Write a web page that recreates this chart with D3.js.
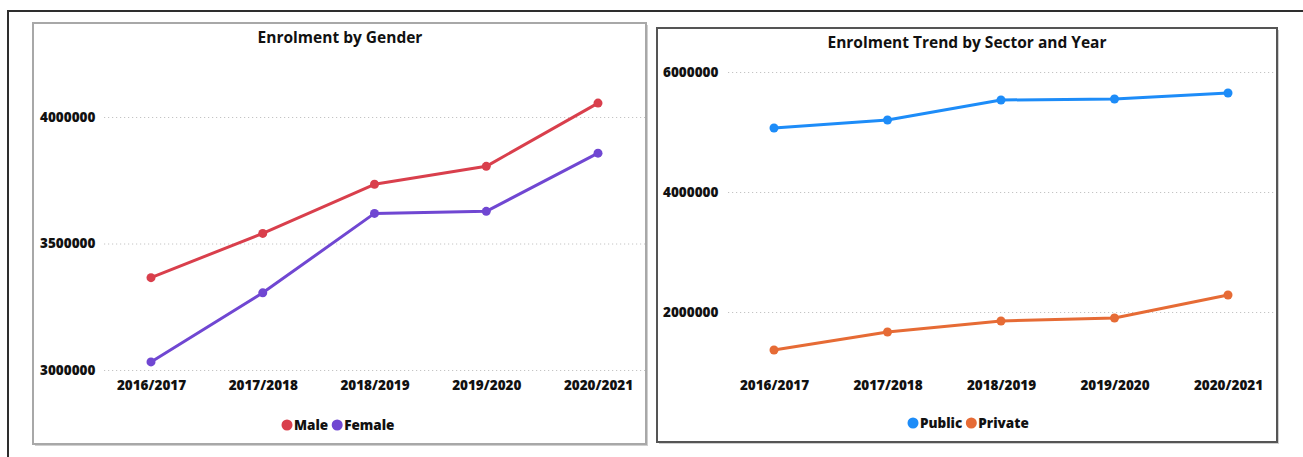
<!DOCTYPE html>
<html>
<head>
<meta charset="utf-8">
<script src="https://cdn.jsdelivr.net/npm/d3@7"></script>
<style>
html,body{margin:0;padding:0;background:#fff;}
svg{display:block;}
text{font-family:"Open Sans","DejaVu Sans",sans-serif;font-weight:800;fill:#111;}
</style>
</head>
<body>
<svg id="c" width="1303" height="457"></svg>
<script>
const years = ["2016/2017","2017/2018","2018/2019","2019/2020","2020/2021"];
const male = [3365000,3540000,3734000,3805000,4055000];
const female = [3032000,3305000,3619000,3627000,3857000];
const publicS = [5067000,5200000,5533000,5550000,5650000];
const privateS = [1367000,1667000,1850000,1900000,2283000];
const genderTicks = [3000000,3500000,4000000];
const sectorTicks = [2000000,4000000,6000000];
const colors = {Male:"#d93f4c",Female:"#7047d2",Public:"#1d8cf8",Private:"#e66b35"};

const svg = d3.select("#c");
// outer frame
svg.append("rect").attr("x",8).attr("y",11).attr("width",1320).attr("height",470)
  .attr("fill","none").attr("stroke","#2e2e2e").attr("stroke-width",2);

function panel(cfg){
  const g = svg.append("g");
  // shadow
  g.append("rect").attr("x",cfg.x0+2).attr("y",cfg.y0+2).attr("width",cfg.x1-cfg.x0).attr("height",cfg.y1-cfg.y0)
    .attr("fill","#cfcfcf");
  g.append("rect").attr("x",cfg.x0).attr("y",cfg.y0).attr("width",cfg.x1-cfg.x0).attr("height",cfg.y1-cfg.y0)
    .attr("fill","#fff").attr("stroke",cfg.border).attr("stroke-width",2);
  g.append("text").attr("x",cfg.titleX).attr("y",cfg.titleY).attr("text-anchor","middle")
    .style("font-size","15.5px").style("font-weight","700").text(cfg.title);

  const x = d3.scalePoint().domain(years).range(cfg.xr);
  const y = d3.scaleLinear().domain(cfg.yd).range(cfg.yr);

  // y axis grid + labels
  const ya = d3.axisLeft(y).tickValues(cfg.ticks).tickSize(-(cfg.gridX1-cfg.gridX0)).tickFormat(d3.format("d")).tickPadding(10);
  const yg = g.append("g").attr("transform",`translate(${cfg.gridX0},0)`).call(ya);
  yg.select(".domain").remove();
  yg.selectAll(".tick line").attr("stroke","#c4c4c4").attr("stroke-dasharray","1.2,2.8");
  yg.selectAll(".tick text").attr("text-anchor","start").attr("x",cfg.labelX-cfg.gridX0)
    .style("font-size","13.5px").attr("fill","#111");

  // x axis labels
  const xa = d3.axisBottom(x).tickSize(0).tickPadding(0);
  const xg = g.append("g").attr("transform",`translate(0,${cfg.xLabelY})`).call(xa);
  xg.select(".domain").remove();
  xg.selectAll(".tick text").style("font-size","13.5px").attr("fill","#111").attr("dy","0.35em");

  const line = d3.line().x((d,i)=>x(years[i])).y(d=>y(d));
  cfg.series.forEach(s=>{
    g.append("path").datum(s.values).attr("d",line).attr("fill","none")
      .attr("stroke",colors[s.name]).attr("stroke-width",3).attr("stroke-linejoin","round");
    g.selectAll(null).data(s.values).enter().append("circle")
      .attr("cx",(d,i)=>x(years[i])).attr("cy",d=>y(d)).attr("r",4.5).attr("fill",colors[s.name]);
  });

  // legend
  const lg = g.append("g").attr("transform",`translate(${cfg.legX},${cfg.legY})`);
  let off = 0;
  cfg.series.forEach(s=>{
    lg.append("circle").attr("cx",off+5).attr("cy",0).attr("r",5.5).attr("fill",colors[s.name]);
    const t = lg.append("text").attr("x",off+12).attr("y",0).attr("dy","0.35em").style("font-size","13.5px").text(s.name);
    off += 12 + t.node().getComputedTextLength() + 4;
  });
}

panel({
  x0:33,y0:23,x1:646,y1:444,border:"#a8a8a8",
  title:"Enrolment by Gender",titleX:340,titleY:43,
  xr:[151,598],yd:[3000000,4200000],yr:[370,370-1.2*253],
  ticks:genderTicks,gridX0:104,gridX1:645,labelX:40,xLabelY:385,
  series:[{name:"Male",values:male},{name:"Female",values:female}],
  legX:282,legY:425
});

panel({
  x0:657,y0:28,x1:1277,y1:442,border:"#555",
  title:"Enrolment Trend by Sector and Year",titleX:967,titleY:48,
  xr:[774,1228],yd:[1000000,6200000],yr:[372,60],
  ticks:sectorTicks,gridX0:728,gridX1:1275,labelX:663,xLabelY:385,
  series:[{name:"Public",values:publicS},{name:"Private",values:privateS}],
  legX:908,legY:423
});
</script>
</body>
</html>
